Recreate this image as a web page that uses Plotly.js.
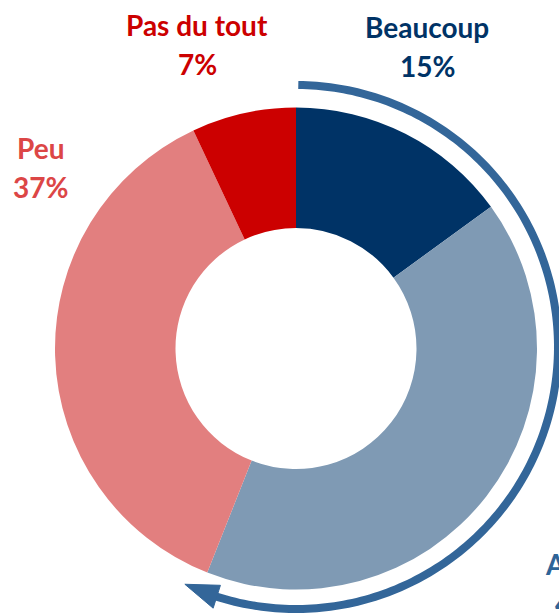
<!DOCTYPE html>
<html>
<head>
<meta charset="utf-8">
<script src="https://cdn.plot.ly/plotly-3.0.1.min.js"></script>
<style>
  html, body { margin: 0; padding: 0; background: #fff; }
  #chart { width: 559px; height: 615px; }
</style>
</head>
<body>
<div id="chart"></div>
<script>
const categories = ['Beaucoup', 'Assez', 'Peu', 'Pas du tout'];
const values = [15, 41, 37, 7];
const sliceColors = ['#003366', '#7f9ab4', '#e27f7f', '#cc0000'];
const labelColors = ['#003366', '#2f6497', '#dc4646', '#cc0000'];

const W = 559, H = 615;
// pie geometry in pixels (center and radius)
const cx = 296, cy = 348.5, R = 241;

const px = x => x / W;
const py = y => 1 - y / H;

// label positions (pixel), name line then percent line
const labelPos = [
  {x: 427, y: 27, anchor: 'center'},
  {x: 543, y: 564, anchor: 'left'},
  {x: 40, y: 148, anchor: 'center'},
  {x: 197, y: 25, anchor: 'center'}
];

const annotations = [];
categories.forEach((c, i) => {
  const p = labelPos[i];
  const font = {family: 'Lato, "Open Sans", sans-serif', size: 28, color: labelColors[i], weight: 'bold'};
  annotations.push({
    xref: 'paper', yref: 'paper', x: px(p.x), y: py(p.y),
    text: '<b>' + c + '</b>', showarrow: false, xanchor: p.anchor, yanchor: 'middle', font: font
  });
  annotations.push({
    xref: 'paper', yref: 'paper', x: px(p.anchor === 'left' ? p.x + 10 : p.x), y: py(p.y + 39),
    text: '<b>' + values[i] + '%</b>', showarrow: false, xanchor: p.anchor, yanchor: 'middle', font: font
  });
});

// arc arrow around Beaucoup + Assez
const total = values.reduce((a, b) => a + b, 0);
const endFrac = (values[0] + values[1]) / total;
const ac = {x: 296, y: 347}, ar = 262;
const endDeg = endFrac * 360;
const pt = (deg, r) => {
  const a = deg * Math.PI / 180;
  return [ac.x + r * Math.sin(a), ac.y - r * Math.cos(a)];
};
let arc = '';
for (let d = 0.5; d <= endDeg - 3; d += 1) {
  const [x, y] = pt(d, ar);
  arc += (arc ? ' L' : 'M') + px(x).toFixed(5) + ',' + py(y).toFixed(5);
}
const h1 = pt(endDeg - 4, ar + 12), h2 = pt(endDeg - 4, ar - 12), tip = pt(endDeg + 3.5, ar);
const head = 'M' + px(h1[0]) + ',' + py(h1[1]) + ' L' + px(tip[0]) + ',' + py(tip[1]) +
  ' L' + px(h2[0]) + ',' + py(h2[1]) + ' Z';

const data = [{
  type: 'pie',
  labels: categories,
  values: values,
  hole: 0.5,
  sort: false,
  direction: 'clockwise',
  rotation: 0,
  textinfo: 'none',
  hoverinfo: 'label+percent',
  marker: {colors: sliceColors, line: {width: 0}},
  domain: {x: [px(cx - R), px(cx + R)], y: [py(cy + R), py(cy - R)]},
  showlegend: false
}];

const layout = {
  width: W, height: H,
  margin: {l: 0, r: 0, t: 0, b: 0},
  paper_bgcolor: '#fff',
  annotations: annotations,
  shapes: [
    {type: 'path', xref: 'paper', yref: 'paper', path: arc, line: {color: '#336699', width: 8}},
    {type: 'path', xref: 'paper', yref: 'paper', path: head, fillcolor: '#336699', line: {color: '#336699', width: 1}}
  ]
};

Plotly.newPlot('chart', data, layout, {displayModeBar: false});
</script>
</body>
</html>
